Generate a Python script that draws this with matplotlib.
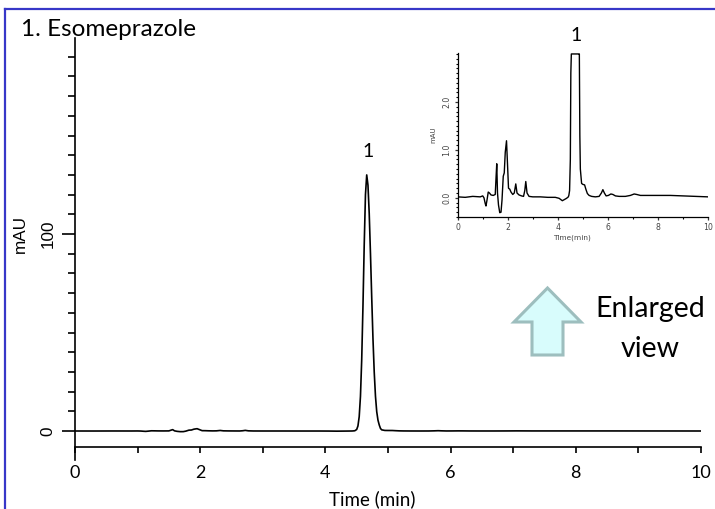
import matplotlib.pyplot as plt
import numpy as np
from matplotlib.patches import Polygon
from matplotlib.lines import Line2D
from matplotlib.ticker import MultipleLocator, FixedLocator, FormatStrFormatter

# chromatogram (time in min, signal in mAU)
time_min = [
    0.00, 0.30, 0.60, 0.90, 1.00, 1.05, 1.10, 1.13, 1.17, 1.22, 1.27, 1.33,
    1.42, 1.50, 1.53, 1.56, 1.59, 1.63, 1.68, 1.73, 1.77, 1.82, 1.86, 1.90,
    1.95, 1.99, 2.03, 2.08, 2.13, 2.20, 2.26, 2.32, 2.37, 2.45, 2.55, 2.63,
    2.68, 2.72, 2.77, 2.85, 3.00, 3.30, 3.60, 3.90, 4.05, 4.18, 4.25, 4.35,
    4.42, 4.44, 4.47, 4.50, 4.52, 4.54, 4.56, 4.58, 4.60, 4.62, 4.64, 4.66,
    4.68, 4.70, 4.72, 4.74, 4.76, 4.78, 4.80, 4.82, 4.84, 4.86, 4.88, 4.90,
    4.95, 5.00, 5.07, 5.12, 5.18, 5.25, 5.35, 5.50, 5.65, 5.74, 5.80, 5.86,
    5.93, 6.02, 6.12, 6.20, 6.30, 6.45, 6.70, 6.90, 7.05, 7.15, 7.30, 7.60,
    8.00, 8.50, 9.00, 9.50, 10.00,
]
signal_mau = [
    0.02, 0.01, 0.03, 0.02, 0.04, 0.00, -0.12, -0.17, -0.05, 0.12, 0.10, 0.06,
    0.05, 0.07, 0.40, 0.71, 0.10, -0.15, -0.31, -0.30, -0.05, 0.45, 0.52, 0.95,
    1.19, 0.70, 0.20, 0.18, 0.12, 0.07, 0.10, 0.29, 0.10, 0.06, 0.04, 0.03,
    0.15, 0.34, 0.10, 0.03, 0.02, 0.02, 0.01, 0.01, -0.01, -0.06, -0.04, -0.01,
    0.02, 0.05, 0.15, 0.80, 2.6, 7.3, 17.6, 36.2, 63.3, 94.4, 120.0, 130.0,
    124.8, 110.4, 90.0, 67.7, 46.8, 29.9, 17.6, 9.8, 5.5, 3.1, 1.3, 0.6,
    0.30, 0.28, 0.27, 0.18, 0.09, 0.05, 0.03, 0.02, 0.03, 0.10, 0.17, 0.10,
    0.04, 0.05, 0.08, 0.07, 0.04, 0.03, 0.03, 0.05, 0.08, 0.07, 0.05, 0.05,
    0.05, 0.05, 0.04, 0.03, 0.02,
]

peak_name = "1"
peak_time = 4.66
peak_height = 130.0
inset_top = 3.0

W, H = 715, 509
fig = plt.figure(figsize=(W / 100, H / 100), dpi=100)

# ---- main chromatogram
ax = fig.add_axes([75 / W, (H - 460) / H, 626 / W, 422 / H])
ax.plot(time_min, signal_mau, color="black", lw=1.2)
ax.set_xlim(0, 10)
ax.set_ylim(-14.7, 199.5)
ax.spines["top"].set_visible(False)
ax.spines["right"].set_visible(False)
ax.spines["bottom"].set_position(("data", -8.1))
for s in ("left", "bottom"):
    ax.spines[s].set_linewidth(1.2)

ax.xaxis.set_major_locator(MultipleLocator(2))
ax.xaxis.set_minor_locator(MultipleLocator(1))
ax.yaxis.set_major_locator(FixedLocator([0, 100]))
ax.yaxis.set_minor_locator(FixedLocator([v for v in range(10, 200, 10) if v != 100]))
ax.tick_params(axis="x", which="both", length=4.3, width=1.2, direction="out",
               pad=9, labelsize=13)
ax.tick_params(axis="y", which="major", length=9.4, width=1.2, pad=4.5,
               labelsize=12.3, labelrotation=90)
ax.tick_params(axis="y", which="minor", length=5, width=1.2)
for lab in ax.get_xticklabels():
    lab.set_fontfamily("Lato")
for lab in ax.get_yticklabels():
    lab.set_fontfamily("Liberation Sans")
    lab.set_va("center")
ax.xaxis.get_major_ticks()[-1].tick1line.set_markersize(9.4)

ax.set_xlabel("Time (min)", fontsize=13.5, fontfamily="Lato")
ax.xaxis.set_label_coords((372 - 75) / 626, (460 - 505) / 422)
ax.xaxis.label.set_va("baseline")
ax.set_ylabel("mAU", fontsize=12.3, fontfamily="Liberation Sans")
ax.yaxis.set_label_coords((20 - 75) / 626, (460 - 234) / 422)
ax.yaxis.label.set_va("center")

ax.annotate(peak_name, (peak_time, peak_height), xytext=(1, 10.5),
            textcoords="offset points", ha="center", va="bottom",
            fontsize=14, fontfamily="Lato")

# ---- inset: enlarged view of the same trace
ins = fig.add_axes([457.7 / W, (H - 217) / H, 250.3 / W, 164 / H])
ins.plot(time_min, np.minimum(signal_mau, inset_top), color="black", lw=1.0)
ins.set_xlim(0, 10)
ins.set_ylim(-0.4, 3.02)
ins.spines["top"].set_visible(False)
ins.spines["right"].set_visible(False)
for s in ("left", "bottom"):
    ins.spines[s].set_linewidth(0.9)
ins.xaxis.set_major_locator(MultipleLocator(2))
ins.xaxis.set_minor_locator(MultipleLocator(1))
ins.yaxis.set_major_locator(FixedLocator([0, 1, 2]))
ins.yaxis.set_minor_locator(MultipleLocator(0.1))
ins.yaxis.set_major_formatter(FormatStrFormatter("%.1f"))
ins.tick_params(axis="both", which="major", length=2.5, width=0.9, pad=2,
                labelsize=5.6, colors="#333333", labelcolor="#444444")
ins.tick_params(axis="both", which="minor", length=1.5, width=0.8)
ins.tick_params(axis="y", labelrotation=90)
for lab in ins.get_yticklabels():
    lab.set_va("center")
ins.xaxis.get_major_ticks()[-1].tick1line.set_markersize(4.5)
ins.set_xlabel("Time(min)", fontsize=5.3, color="#444444")
ins.xaxis.set_label_coords((572 - 457.7) / 250.3, (217 - 239.5) / 164)
ins.xaxis.label.set_va("baseline")
ins.set_ylabel("mAU", fontsize=5, color="#444444")
ins.yaxis.set_label_coords((433 - 457.7) / 250.3, 0.5)
ins.yaxis.label.set_va("center")
ins.annotate(peak_name, (4.72, inset_top), xytext=(0, 7),
             textcoords="offset points", ha="center", va="bottom",
             fontsize=14, fontfamily="Lato")

# ---- "Enlarged view" arrow and caption
arrow_px = [(547.5, 288), (581, 322), (563, 322), (563, 355),
            (532, 355), (532, 322), (514, 322)]
arrow = Polygon([(x / W, 1 - y / H) for x, y in arrow_px], closed=True,
                transform=fig.transFigure, facecolor="#d8fcfc",
                edgecolor="#9dbebe", lw=2.2)
fig.patches.append(arrow)
fig.text(650 / W, 1 - 317 / H, "Enlarged", ha="center", va="baseline",
         fontsize=20.5, fontfamily="Lato")
fig.text(650 / W, 1 - 357 / H, "view", ha="center", va="baseline",
         fontsize=20.5, fontfamily="Lato")

fig.text(21 / W, 1 - 36 / H, "1. Esomeprazole", ha="left", va="baseline",
         fontsize=17.5, fontfamily="Lato")

# blue frame (top and left edges)
frame_c = "#3737c8"
fig.lines.append(Line2D([5 / W, 5 / W], [0, 1 - 9 / H], transform=fig.transFigure,
                        color=frame_c, lw=1.6))
fig.lines.append(Line2D([5 / W, 1], [1 - 9 / H, 1 - 9 / H], transform=fig.transFigure,
                        color=frame_c, lw=1.6))

fig.savefig("out.png", dpi=100)
